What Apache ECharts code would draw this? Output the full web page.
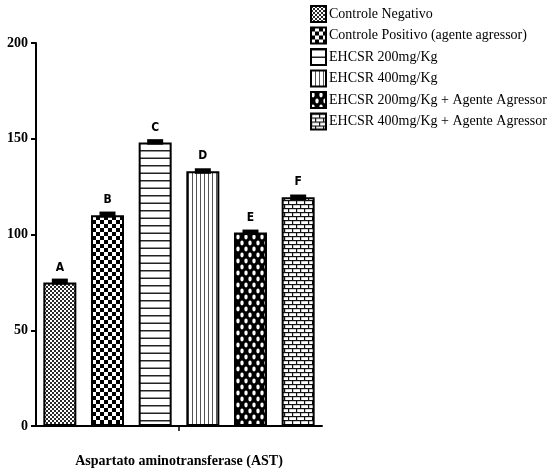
<!DOCTYPE html>
<html><head><meta charset="utf-8">
<script src="https://cdn.jsdelivr.net/npm/echarts@6/dist/echarts.min.js"></script>
<style>html,body{margin:0;padding:0;background:#fff}#c{width:548px;height:473px}</style>
</head><body><div id="c"></div>
<script>
var groups = ['Controle Negativo','Controle Positivo (agente agressor)','EHCSR 200mg/Kg','EHCSR 400mg/Kg','EHCSR 200mg/Kg + Agente Agressor','EHCSR 400mg/Kg + Agente Agressor'];
var values = [75, 110, 148, 133, 101, 119.5];
var errors = [1.2, 1.2, 1.0, 0.8, 0.8, 0.6];
var letters = ['A','B','C','D','E','F'];
var yTicks = [0, 50, 100, 150, 200];
var axisTitle = 'Aspartato aminotransferase (AST)';

function pat(w, h, draw) {
  var c = document.createElement('canvas'); c.width = w; c.height = h;
  var g = c.getContext('2d'); g.fillStyle = '#fff'; g.fillRect(0,0,w,h); draw(g);
  return {image: c, repeat: 'repeat'};
}
var patterns = [
  pat(4,4,function(g){g.fillStyle='#2a2a2a';g.fillRect(0,0,2,2);g.fillRect(2,2,2,2);}),
  pat(8,8,function(g){g.fillStyle='#000';g.fillRect(0,0,4,4);g.fillRect(4,4,4,4);}),
  pat(4,15,function(g){g.fillStyle='#222';g.fillRect(0,0,4,1.5);g.fillRect(0,7.5,4,1.5);}),
  pat(4,4,function(g){g.fillStyle='#555';g.fillRect(0,0,1,4);}),
  pat(8,12,function(g){g.fillStyle='#000';g.fillRect(0,0,8,12);g.fillStyle='#fff';
    function d(x,y){g.beginPath();g.ellipse(x,y,1.7,2.4,0,0,Math.PI*2);g.fill();}
    d(2,3);d(6,9);}),
  pat(8,8,function(g){g.fillStyle='#111';g.fillRect(0,0,8,1.2);g.fillRect(0,4,8,1.2);g.fillRect(0,0,1.2,4);g.fillRect(4,4,1.2,4);})
];

var series = groups.map(function(name, i){
  var d = values.map(function(v, j){ return j === i ? v : '-'; });
  return {
    name: name, type: 'bar', stack: 'all', barWidth: 33, xAxisIndex: 0,
    data: d,
    itemStyle: {color: patterns[i], borderColor: '#000', borderWidth: 2},
    label: {show: true, position: 'top', distance: 9, formatter: function(){return letters[i];},
      color: '#000', fontWeight: 'bold', fontSize: 12, fontFamily: "'Liberation Sans Narrow','DejaVu Sans Condensed','Liberation Sans',sans-serif"},
    emphasis: {disabled: true}
  };
});
series.push({
  type: 'custom', xAxisIndex: 0, z: 10, silent: true,
  data: values.map(function(v, i){ return [i, v, errors[i]]; }),
  renderItem: function(params, api){
    var i = api.value(0), v = api.value(1), e = api.value(2);
    var top = api.coord([i, v + e]), bot = api.coord([i, v - e]);
    var h = Math.max(bot[1] - top[1], 4);
    return {type: 'rect', shape: {x: top[0] - 8, y: top[1] - 1.5, width: 16, height: h + 1.5}, style: {fill: '#000'}};
  }
});

var chart = echarts.init(document.getElementById('c'));
chart.setOption({
  animation: false,
  grid: {left: 36, right: 226, top: 43, bottom: 42, containLabel: false},
  legend: {
    orient: 'vertical', left: 305, top: 0, itemWidth: 15, itemHeight: 16, itemGap: 3.5,
    icon: 'rect', data: groups,
    textStyle: {fontFamily: "'Liberation Serif','DejaVu Serif',serif", fontSize: 14, color: '#000', padding: [0,0,0,-2]},
    itemStyle: {borderColor: '#000', borderWidth: 2}
  },
  xAxis: [
    {type: 'category', data: letters, boundaryGap: true,
      axisLine: {lineStyle: {color: '#000', width: 2}}, axisTick: {show: false}, axisLabel: {show: false}},
    {type: 'category', data: ['AST'], position: 'bottom',
      axisLine: {show: false}, axisTick: {show: true, alignWithLabel: true, length: 5, lineStyle: {color: '#000', width: 1.5}},
      axisLabel: {show: false},
      name: axisTitle, nameLocation: 'middle', nameGap: 28,
      nameTextStyle: {fontFamily: "'Liberation Serif','DejaVu Serif',serif", fontWeight: 'bold', fontSize: 14, color: '#000'}}
  ],
  yAxis: {type: 'value', min: yTicks[0], max: yTicks[yTicks.length-1], interval: 50,
    axisLine: {show: true, lineStyle: {color: '#000', width: 2}},
    axisTick: {show: true, length: 5, lineStyle: {color: '#000', width: 2}},
    splitLine: {show: false},
    axisLabel: {color: '#000', fontWeight: 'bold', fontSize: 14, margin: 8, fontFamily: "'Liberation Serif','DejaVu Serif',serif"}},
  series: series
});
</script></body></html>
